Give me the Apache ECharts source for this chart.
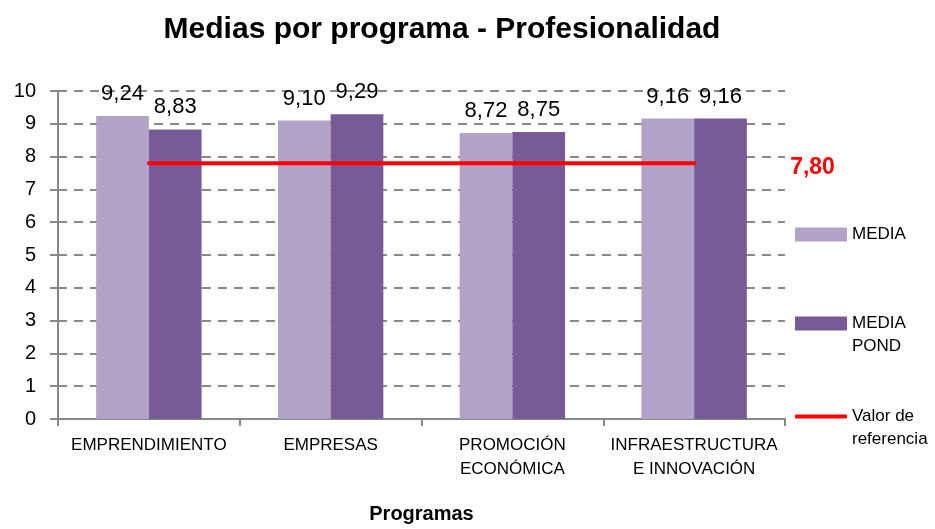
<!DOCTYPE html>
<html>
<head>
<meta charset="utf-8">
<script src="https://cdn.jsdelivr.net/npm/echarts@6/dist/echarts.min.js"></script>
<style>html,body{margin:0;padding:0;background:#fff}#c{width:935px;height:529px}</style>
</head>
<body>
<div id="c"></div>
<script>
var categories = ['EMPRENDIMIENTO', 'EMPRESAS', 'PROMOCIÓN\nECONÓMICA', 'INFRAESTRUCTURA\nE INNOVACIÓN'];
var media = [9.24, 9.10, 8.72, 9.16];
var mediaPond = [8.83, 9.29, 8.75, 9.16];
var referencia = [7.80, 7.80, 7.80, 7.80];
var yTicks = [0, 1, 2, 3, 4, 5, 6, 7, 8, 9, 10];

var FONT = '"Liberation Sans Narrow", "Arial Narrow", "Liberation Sans", Arial, sans-serif';
function fmt(v) { return v.toFixed(2).replace('.', ','); }
function firstLineOnIcon(name) { return name.indexOf('\n') >= 0 ? '\n' + name : name; }

var legendText = { fontFamily: FONT, fontSize: 17, color: '#000', lineHeight: 23 };

var chart = echarts.init(document.getElementById('c'));
chart.setOption({
  animation: false,
  backgroundColor: '#fff',
  title: {
    text: 'Medias por programa - Profesionalidad',
    left: 437, top: 10, textAlign: 'center',
    textStyle: { fontFamily: FONT, fontWeight: 'bold', fontSize: 30, color: '#000' }
  },
  grid: { left: 58, right: 150, top: 91, bottom: 110, containLabel: false, outerBoundsMode: 'none' },
  legend: [
    { data: [{ name: 'MEDIA', icon: 'rect' }], orient: 'vertical', left: 795, top: 223, padding: 0,
      itemWidth: 52, itemHeight: 14, itemGap: 0, formatter: firstLineOnIcon, textStyle: legendText },
    { data: [{ name: 'MEDIA\nPOND', icon: 'rect' }], orient: 'vertical', left: 795, top: 289, padding: 0,
      itemWidth: 52, itemHeight: 14, itemGap: 0, formatter: firstLineOnIcon, textStyle: legendText },
    { data: [{ name: 'Valor de\nreferencia', icon: 'roundRect' }], orient: 'vertical', left: 795, top: 382, padding: 0,
      itemWidth: 52, itemHeight: 4, itemGap: 0, formatter: firstLineOnIcon, textStyle: legendText }
  ],
  xAxis: {
    type: 'category',
    data: categories,
    name: 'Programas',
    nameLocation: 'middle',
    nameGap: 85,
    nameTextStyle: { fontFamily: FONT, fontWeight: 'bold', fontSize: 20, color: '#000' },
    axisLine: { lineStyle: { color: '#888', width: 2 } },
    axisTick: { show: true, length: 7, lineStyle: { color: '#888', width: 2 } },
    axisLabel: { fontFamily: FONT, fontSize: 17, color: '#000', lineHeight: 24, margin: 14, interval: 0 },
    splitLine: { show: false }
  },
  yAxis: {
    type: 'value', min: 0, max: 10, interval: 1,
    axisLine: { show: true, lineStyle: { color: '#888', width: 2 } },
    axisTick: { show: true, length: 8, lineStyle: { color: '#888', width: 2 } },
    axisLabel: { fontFamily: FONT, fontSize: 20, color: '#000', margin: 22,
      formatter: function (v) { return yTicks.indexOf(v) >= 0 ? String(v) : ''; } },
    splitLine: { show: true, lineStyle: { color: '#888', width: 2, type: [9, 7] } }
  },
  series: [
    { name: 'MEDIA', type: 'bar', data: media, barGap: '0%', barCategoryGap: '42%',
      itemStyle: { color: '#b2a2c7' },
      label: { show: true, position: 'top', distance: 11, fontFamily: FONT, fontSize: 22, color: '#000',
        formatter: function (p) { return fmt(p.value); } } },
    { name: 'MEDIA\nPOND', type: 'bar', data: mediaPond, barGap: '0%', barCategoryGap: '42%',
      itemStyle: { color: '#765b96' },
      label: { show: true, position: 'top', distance: 11, fontFamily: FONT, fontSize: 22, color: '#000',
        formatter: function (p) { return fmt(p.value); } } },
    { name: 'Valor de\nreferencia', type: 'line', data: referencia, z: 5,
      symbol: 'none', showSymbol: false,
      itemStyle: { color: '#ff0000' },
      lineStyle: { color: '#ff0000', width: 4, cap: 'round' },
      endLabel: { show: true, offset: [88, 4], fontFamily: FONT, fontWeight: 'bold', fontSize: 23, color: '#ff0000',
        formatter: function (p) { return fmt(p.value); } } }
  ]
});
</script>
</body>
</html>
